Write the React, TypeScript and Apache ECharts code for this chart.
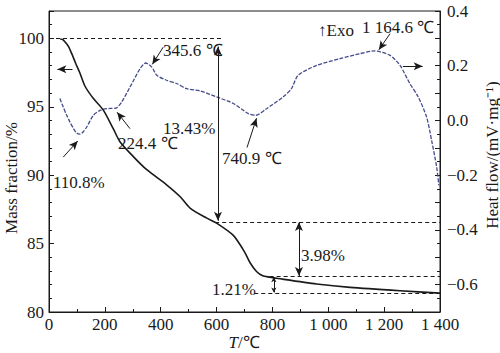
import React, { useEffect, useRef } from "react";
import * as echarts from "echarts";

// TG curve (mass fraction, %)
const tgTemp = [40, 50, 57, 70, 81, 95, 111, 129, 159, 194, 230, 254, 302, 350, 421, 469, 505, 565, 600, 660, 700, 720, 743, 765, 790, 820, 958, 1078, 1257, 1400];
const tgMass = [99.95, 99.9, 99.75, 99.4, 98.9, 98.2, 97.45, 96.5, 95.6, 94.77, 93.4, 92.45, 91.36, 90.4, 89.3, 88.44, 87.6, 86.86, 86.5, 85.6, 84.4, 83.6, 82.96, 82.65, 82.55, 82.45, 82.05, 81.8, 81.55, 81.38];

// DSC curve (heat flow, mV/mg)
const dscTemp = [39, 51, 63, 75, 88, 99, 111, 122, 135, 159, 183, 207, 224, 240, 260, 290, 326, 346, 368, 386, 421, 457, 493, 541, 600, 660, 714, 741, 779, 838, 868, 892, 958, 1042, 1113, 1165, 1221, 1257, 1292, 1322, 1352, 1370, 1388, 1396];
const dscFlow = [0.080, 0.049, 0.02, -0.006, -0.03, -0.046, -0.05, -0.042, -0.024, 0.019, 0.037, 0.043, 0.044, 0.045, 0.067, 0.122, 0.189, 0.21, 0.195, 0.165, 0.147, 0.135, 0.116, 0.108, 0.086, 0.062, 0.025, 0.019, 0.043, 0.086, 0.116, 0.165, 0.201, 0.226, 0.244, 0.254, 0.238, 0.201, 0.135, 0.086, 0.013, -0.073, -0.17, -0.237];

// mass-loss steps
const startLevel = 100;
const lossTotal = 13.43;
const lossStep2 = 3.98;
const lossStep3 = 1.21;
const level1 = startLevel - lossTotal;
const level2 = level1 - lossStep2;
const level3 = level2 - lossStep3;

const FONT = "Liberation Serif, Times New Roman, serif";
const INK = "#1a1a1a";

const dashStyle = { type: [4, 3], color: INK, width: 1 };
const solidStyle = { type: "solid", color: INK, width: 1 };

function seg(a: number[], b: number[], s0: string, s1: string, ls: any, size?: number[]) {
  const extra = size ? { symbolSize: size } : {};
  return [
    { coord: a, symbol: s0, lineStyle: ls, ...extra },
    { coord: b, symbol: s1, ...extra },
  ];
}

const annotations = [
  { text: "345.6 \u2103", x: 163, y: 50 },
  { text: "224.4 \u2103", x: 118, y: 143 },
  { text: `${lossTotal.toFixed(2)}%`, x: 163, y: 128 },
  { text: "110.8%", x: 53, y: 182 },
  { text: "740.9 \u2103", x: 222, y: 158 },
  { text: "\u2191Exo", x: 318, y: 30 },
  { text: "1 164.6 \u2103", x: 362, y: 27 },
  { text: `${lossStep2.toFixed(2)}%`, x: 301, y: 255 },
  { text: `${lossStep3.toFixed(2)}%`, x: 212, y: 289 },
];

export default function App() {
  const ref = useRef<HTMLDivElement>(null);
  useEffect(() => {
    if (!ref.current) return;
    const chart = echarts.init(ref.current, undefined, { renderer: "svg" });
    const tgData = tgTemp.map((t, i) => [t, tgMass[i]]);
    const dscData = dscTemp.map((t, i) => [t, dscFlow[i]]);
    const labelStyle = { fontFamily: FONT, fontSize: 17, color: INK };
    const fmtMinus = (s: string) => s.replace("-", "\u2212");

    chart.setOption({
      animation: false,
      backgroundColor: "#fff",
      textStyle: { fontFamily: FONT },
      grid: { left: 49, right: 60, top: 11, bottom: 41, show: true, borderColor: INK, borderWidth: 1 },
      xAxis: {
        type: "value",
        min: 0,
        max: 1400,
        interval: 200,
        axisLine: { onZero: false, lineStyle: { color: INK, width: 1 } },
        axisTick: { inside: true, length: 5, lineStyle: { color: INK } },
        minorTick: { show: true, splitNumber: 2, length: 3, lineStyle: { color: INK } },
        splitLine: { show: false },
        axisLabel: {
          ...labelStyle,
          margin: 4,
          formatter: (v: number) => (v >= 1000 ? "1 " + String(v).slice(1) : String(v)),
        },
      },
      yAxis: [
        {
          type: "value",
          min: 80,
          max: 102,
          interval: 5,
          axisLine: { show: true, onZero: false, lineStyle: { color: INK, width: 1 } },
          axisTick: { show: true, inside: true, length: 5, lineStyle: { color: INK } },
          minorTick: { show: true, splitNumber: 5, length: 3, lineStyle: { color: INK } },
          splitLine: { show: false },
          axisLabel: { ...labelStyle, margin: 5, showMaxLabel: false },
        },
        {
          type: "value",
          position: "right",
          min: -0.7,
          max: 0.4,
          interval: 0.1,
          axisLine: { show: true, onZero: false, lineStyle: { color: INK, width: 1 } },
          axisTick: { show: true, inside: true, length: 5, lineStyle: { color: INK } },
          minorTick: { show: true, splitNumber: 2, length: 3, lineStyle: { color: INK } },
          splitLine: { show: false },
          axisLabel: {
            ...labelStyle,
            margin: 7,
            showMinLabel: false,
            formatter: (v: number) => {
              const k = Math.round(v * 10);
              if (k % 2 !== 0) return "";
              return fmtMinus((k / 10).toFixed(1));
            },
          },
        },
      ],
      series: [
        {
          name: "TG",
          type: "line",
          yAxisIndex: 0,
          data: tgData,
          showSymbol: false,
          symbol: "none",
          smooth: 0.25,
          lineStyle: { color: INK, width: 1.6 },
          z: 3,
          markLine: {
            silent: true,
            animation: false,
            symbolSize: [6, 9],
            label: { show: false },
            emphasis: { disabled: true },
            data: [
              seg([0, startLevel], [625, startLevel], "none", "none", dashStyle),
              seg([595, level1], [1400, level1], "none", "none", dashStyle),
              seg([790, level2], [1400, level2], "none", "none", dashStyle),
              seg([735, level3], [1400, level3], "none", "none", dashStyle),
              seg([605, startLevel - 0.6], [605, level1 + 0.1], "arrow", "arrow", solidStyle),
              seg([895, level1], [895, level2 + 0.05], "arrow", "arrow", solidStyle),
              seg([805, level2 - 0.05], [805, level3 + 0.05], "arrow", "arrow", solidStyle, [4, 5]),
              seg([84, 97.74], [30, 97.74], "none", "arrow", solidStyle),
            ],
          },
        },
        {
          name: "DSC",
          type: "line",
          yAxisIndex: 1,
          data: dscData,
          showSymbol: false,
          symbol: "none",
          smooth: 0.25,
          lineStyle: { color: "#454b8a", width: 1.3, type: [4, 1.5] },
          z: 2,
          markLine: {
            silent: true,
            animation: false,
            symbolSize: [6, 9],
            label: { show: false },
            emphasis: { disabled: true },
            data: [
              seg([409, 0.268], [370, 0.205], "none", "arrow", solidStyle),
              seg([290, -0.03], [244, 0.03], "none", "arrow", solidStyle),
              seg([51, -0.134], [103, -0.075], "none", "arrow", solidStyle),
              seg([709, -0.099], [743, 0.008], "none", "arrow", solidStyle),
              seg([1221, 0.317], [1181, 0.258], "none", "arrow", solidStyle),
              seg([1267, 0.198], [1338, 0.198], "none", "arrow", solidStyle),
            ],
          },
        },
      ],
      graphic: [
        ...annotations.map((a) => ({
          type: "text",
          x: a.x,
          y: a.y,
          silent: true,
          style: { text: a.text, fontFamily: FONT, fontSize: 17, fill: INK, align: "left", verticalAlign: "middle" },
        })),
        {
          type: "text",
          x: 11,
          y: 178,
          rotation: Math.PI / 2,
          silent: true,
          style: { text: "Mass fraction/%", fontFamily: FONT, fontSize: 17, fill: INK, align: "center", verticalAlign: "middle" },
        },
        {
          type: "text",
          x: 492,
          y: 155,
          rotation: Math.PI / 2,
          silent: true,
          style: { text: "Heat flow/(mV\u00b7mg\u207b\u00b9)", fontFamily: FONT, fontSize: 17, fill: INK, align: "center", verticalAlign: "middle" },
        },
        {
          type: "text",
          x: 244,
          y: 342,
          silent: true,
          style: {
            text: "{i|T}/\u2103",
            fontFamily: FONT,
            fontSize: 17,
            fill: INK,
            align: "center",
            verticalAlign: "middle",
            rich: { i: { fontFamily: FONT, fontSize: 17, fontStyle: "italic", fill: INK } },
          },
        },
      ],
    });
    return () => chart.dispose();
  }, []);
  return <div ref={ref} style={{ position: "fixed", left: 0, top: 0, width: 500, height: 353 }} />;
}
